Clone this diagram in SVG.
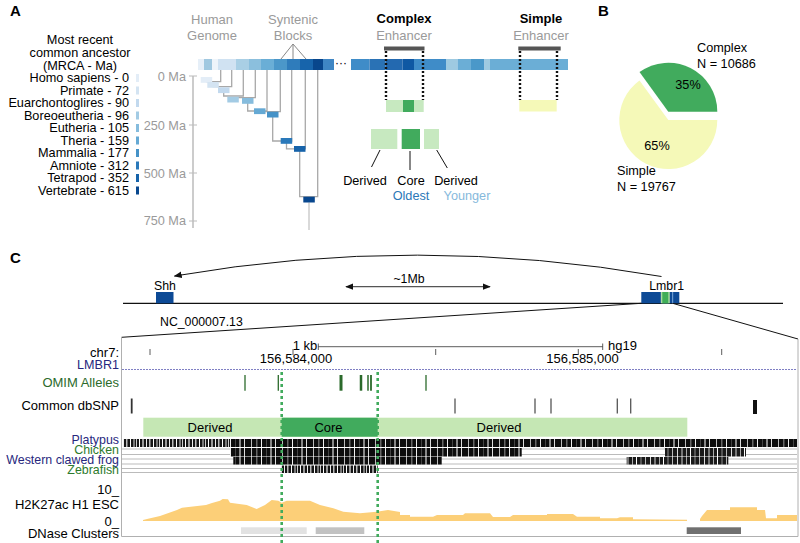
<svg xmlns="http://www.w3.org/2000/svg" width="800" height="543" viewBox="0 0 800 543">
<style>
text{font-family:"Liberation Sans",Arial,sans-serif;fill:#000}
.pl{font-weight:bold;font-size:15px}
.lg{font-size:12.7px;text-anchor:end}
.ax{font-size:12.7px;text-anchor:end;fill:#9a9a9a}
.gt{font-size:13px;text-anchor:middle;fill:#9a9a9a}
.bt{font-size:13px;text-anchor:middle;font-weight:bold}
.sm{font-size:12.7px}
.tr{font-size:13px;text-anchor:end}
.sp{font-size:12.4px;text-anchor:end}
.tree{fill:none;stroke:#a8a8a8;stroke-width:1.3}
.dot{stroke:#111;stroke-width:2.4;stroke-dasharray:2 2}
.gdot{stroke:#41ab5d;stroke-width:2.6;stroke-dasharray:3 3}
.rowl{stroke:#aaa;stroke-width:0.8}
.omim{stroke:#2b6a2b}
.snp{stroke:#555;stroke-width:1.3}
.tick{stroke:#333;stroke-width:0.8}
</style>
<defs>
<marker id="ah" viewBox="0 0 10 10" refX="9" refY="5" markerWidth="8" markerHeight="8" orient="auto-start-reverse" markerUnits="userSpaceOnUse"><path d="M0,1 L10,5 L0,9 Z" fill="#111"/></marker>
<pattern id="bcD" width="31" height="10" patternUnits="userSpaceOnUse">
<rect width="31" height="10" fill="#0d0d0d"/>
<rect x="3" width="1" height="10" fill="#bbb"/><rect x="8" width="1.5" height="10" fill="#666"/>
<rect x="13" width="1" height="10" fill="#eee"/><rect x="18" width="1" height="10" fill="#444"/>
<rect x="22" width="2" height="10" fill="#888"/><rect x="27" width="1" height="10" fill="#ddd"/>
</pattern>
<pattern id="bcL" width="23" height="10" patternUnits="userSpaceOnUse">
<rect width="23" height="10" fill="#151515"/>
<rect x="1" width="1" height="10" fill="#fff"/><rect x="4" width="2" height="10" fill="#999"/>
<rect x="8" width="1" height="10" fill="#eee"/><rect x="11" width="1.5" height="10" fill="#bbb"/>
<rect x="15" width="1" height="10" fill="#fff"/><rect x="18" width="2" height="10" fill="#777"/>
<rect x="21" width="1" height="10" fill="#ccc"/>
</pattern>
<pattern id="bcM" width="27" height="10" patternUnits="userSpaceOnUse">
<rect width="27" height="10" fill="#1a1a1a"/>
<rect x="2" width="1" height="10" fill="#ddd"/><rect x="6" width="2" height="10" fill="#777"/>
<rect x="11" width="1" height="10" fill="#aaa"/><rect x="15" width="1" height="10" fill="#fff"/>
<rect x="19" width="2" height="10" fill="#555"/><rect x="24" width="1" height="10" fill="#bbb"/>
</pattern>
</defs>

<!-- Panel labels -->
<text class="pl" x="10" y="16">A</text>
<text class="pl" x="598" y="16">B</text>
<text class="pl" x="10" y="263">C</text>

<!-- Panel A legend -->
<g id="legend">
<text class="sm" x="80" y="44" text-anchor="middle">Most recent</text>
<text class="sm" x="80" y="57" text-anchor="middle">common ancestor</text>
<text class="sm" x="80" y="70" text-anchor="middle">(MRCA - Ma)</text>
<text class="lg" x="129" y="82">Homo sapiens - 0</text>
<text class="lg" x="129" y="94.5">Primate - 72</text>
<text class="lg" x="129" y="107">Euarchontoglires - 90</text>
<text class="lg" x="129" y="119.5">Boreoeutheria - 96</text>
<text class="lg" x="129" y="132">Eutheria - 105</text>
<text class="lg" x="129" y="144.5">Theria - 159</text>
<text class="lg" x="129" y="157">Mammalia - 177</text>
<text class="lg" x="129" y="169.5">Amniote - 312</text>
<text class="lg" x="129" y="182">Tetrapod - 352</text>
<text class="lg" x="129" y="194.5">Vertebrate - 615</text>
<rect x="136" y="74" width="3" height="8" fill="#e3edf7"/>
<rect x="136" y="86.5" width="3" height="8" fill="#d4e4f2"/>
<rect x="136" y="99" width="3" height="8" fill="#c2d9ee"/>
<rect x="136" y="111.5" width="3" height="8" fill="#a3cbe4"/>
<rect x="136" y="124" width="3" height="8" fill="#86bcdd"/>
<rect x="136" y="136.5" width="3" height="8" fill="#65a9d4"/>
<rect x="136" y="149" width="3" height="8" fill="#4592c7"/>
<rect x="136" y="161.5" width="3" height="8" fill="#2a79ba"/>
<rect x="136" y="174" width="3" height="8" fill="#1663aa"/>
<rect x="136" y="186.5" width="3" height="8" fill="#08478e"/>
</g>

<!-- Axis -->
<g id="axis">
<line x1="193" y1="76" x2="193" y2="228" stroke="#bbb" stroke-width="1.5"/>
<path d="M189,76H197M189,125H197M189,173H197M189,221H197" stroke="#bbb" stroke-width="1.2"/>
<text class="ax" x="186" y="81">0 Ma</text>
<text class="ax" x="186" y="130">250 Ma</text>
<text class="ax" x="186" y="178">500 Ma</text>
<text class="ax" x="186" y="225">750 Ma</text>
</g>

<!-- Headers -->
<g id="headers">
<text class="gt" x="212" y="24">Human</text>
<text class="gt" x="212" y="40">Genome</text>
<text class="gt" x="293" y="24">Syntenic</text>
<text class="gt" x="293" y="40">Blocks</text>
<path d="M293,44 L281,59 M293,44 L293,59 M293,44 L306,59" stroke="#888" stroke-width="1"/>
<text class="bt" x="404" y="23">Complex</text>
<text class="gt" x="404" y="40">Enhancer</text>
<text class="bt" x="541" y="23">Simple</text>
<text class="gt" x="541" y="40">Enhancer</text>
</g>

<!-- Genome bars -->
<g id="genome-bar">
<rect x="198" y="59" width="6" height="11" fill="#e6eff8"/>
<rect x="204" y="59" width="8" height="11" fill="#a0c8e0"/>
<rect x="212" y="59" width="6" height="11" fill="#eef4fa"/>
<rect x="218" y="59" width="18" height="11" fill="#d0e2f2"/>
<rect x="236" y="59" width="13" height="11" fill="#a9cfe5"/>
<rect x="249" y="59" width="12" height="11" fill="#8bbfdd"/>
<rect x="261" y="59" width="13" height="11" fill="#6aaed6"/>
<rect x="274" y="59" width="13" height="11" fill="#4b97c9"/>
<rect x="287" y="59" width="13" height="11" fill="#2f7cbb"/>
<rect x="300" y="59" width="13" height="11" fill="#1764ab"/>
<rect x="313" y="59" width="10" height="11" fill="#08468c"/>
<rect x="323" y="59" width="11" height="11" fill="#3f86c4"/>
<text x="341" y="67" font-size="12" text-anchor="middle">···</text>
<rect x="351" y="59" width="18.5" height="11" fill="#3f8cc8"/>
<rect x="369.5" y="59" width="16" height="11" fill="#2a72b5"/>
<rect x="385.5" y="59" width="17" height="11" fill="#2369b0"/>
<rect x="402.5" y="59" width="11.5" height="11" fill="#0f58a3"/>
<rect x="414" y="59" width="32" height="11" fill="#3f8cc8"/>
<rect x="446" y="59" width="11.5" height="11" fill="#9ecae1"/>
<rect x="457.5" y="59" width="13.5" height="11" fill="#6baed6"/>
<rect x="471" y="59" width="13.5" height="11" fill="#4a98c9"/>
<rect x="484.5" y="59" width="5.5" height="11" fill="#9ecae1"/>
<rect x="490" y="59" width="78" height="11" fill="#6baed6"/>
</g>

<!-- Tree connectors -->
<g id="tree-connectors">
<path class="tree" d="M206.5,80 V81.7 H220.7 V70"/>
<path class="tree" d="M213,85 V86.7 H231.7 V70"/>
<path class="tree" d="M223.7,90 V96 H243.3 V70"/>
<path class="tree" d="M233,99.6 V97.7 H255.3 V70"/>
<path class="tree" d="M247.7,101 V111 H267 V70"/>
<path class="tree" d="M259.7,111 V111.7 H280.3 V70"/>
<path class="tree" d="M272.7,114.6 V141 H291.7 V70"/>
<path class="tree" d="M286.5,141 V148.9 H305.3 V70"/>
<path class="tree" d="M299.7,149 V196.7 H317.7 V70"/>
<path d="M309,202.5 V230" stroke="#ccc" stroke-width="1.5"/>
</g>

<!-- Tree nodes -->
<g id="tree-nodes">
<rect x="200.7" y="77" width="11.5" height="5.8" fill="#e3edf7"/>
<rect x="207.3" y="82" width="11.5" height="5.8" fill="#d4e4f2"/>
<rect x="218" y="87.3" width="11.5" height="5.8" fill="#c2d9ee"/>
<rect x="227.3" y="96.7" width="11.5" height="5.8" fill="#a3cbe4"/>
<rect x="242" y="98" width="11.5" height="5.8" fill="#86bcdd"/>
<rect x="254" y="108.3" width="11.5" height="5.8" fill="#65a9d4"/>
<rect x="267" y="111.7" width="11.5" height="5.8" fill="#4592c7"/>
<rect x="280.7" y="138" width="11.5" height="5.8" fill="#2a79ba"/>
<rect x="294" y="146" width="11.5" height="5.8" fill="#1663aa"/>
<rect x="303.3" y="196.7" width="11.5" height="5.8" fill="#08478e"/>
</g>

<!-- Complex enhancer -->
<g id="complex-enhancer">
<rect x="384" y="46.5" width="40.5" height="4" fill="#555"/>
<line class="dot" x1="386" y1="51" x2="386" y2="100"/>
<line class="dot" x1="423" y1="51" x2="423" y2="100"/>
<rect x="386" y="100" width="17" height="12" fill="#c7e9c0"/>
<rect x="403" y="100" width="11" height="12" fill="#41ab5d"/>
<rect x="414" y="100" width="9.7" height="12" fill="#c7e9c0"/>
<rect x="371" y="129" width="26.3" height="20" fill="#c7e9c0"/>
<rect x="401.7" y="129" width="18.3" height="20" fill="#41ab5d"/>
<rect x="424" y="129" width="15" height="20" fill="#c7e9c0"/>
<path d="M380,150 L371.5,167 M410,151 V170 M436.7,150 L447.3,168" stroke="#111" stroke-width="1"/>
<text class="sm" x="365" y="185" text-anchor="middle">Derived</text>
<text class="sm" x="411" y="185" text-anchor="middle">Core</text>
<text class="sm" x="456" y="185" text-anchor="middle">Derived</text>
<text class="sm" x="411" y="200" text-anchor="middle" style="fill:#2b78b8">Oldest</text>
<text class="sm" x="467" y="200" text-anchor="middle" style="fill:#86b9dc">Younger</text>
</g>

<!-- Simple enhancer -->
<g id="simple-enhancer">
<rect x="518.3" y="46.5" width="42.4" height="4" fill="#555"/>
<line class="dot" x1="520" y1="51" x2="520" y2="100"/>
<line class="dot" x1="557" y1="51" x2="557" y2="100"/>
<rect x="519.3" y="100" width="37.4" height="11.5" fill="#f5f9b8"/>
</g>

<!-- Panel B pie -->
<g id="pie-simple">
<path d="M668.3,120 L717.3,120 A49,49 0 1 1 639.5,80.4 Z" fill="#f5f9b8"/>
<text class="sm" x="657" y="150" text-anchor="middle">65%</text>
<text class="sm" x="617" y="175">Simple</text>
<text class="sm" x="617" y="191">N = 19767</text>
</g>
<g id="pie-complex">
<path d="M668.3,111.7 L639.5,72.1 A49,49 0 0 1 717.3,111.7 Z" fill="#41ab5d"/>
<text class="sm" x="688" y="89" text-anchor="middle">35%</text>
<text class="sm" x="697" y="52">Complex</text>
<text class="sm" x="697" y="68">N = 10686</text>
</g>

<!-- Panel C chromosome -->
<g id="chromosome">
<line x1="123" y1="303.3" x2="783" y2="303.3" stroke="#111" stroke-width="1.2"/>
<text class="sm" x="160" y="326" style="font-size:12.3px">NC_000007.13</text>
</g>
<g id="shh">
<rect x="156" y="292" width="17.5" height="11.3" fill="#0d4a96"/>
<text class="sm" x="165" y="289.5" text-anchor="middle" style="font-size:12.3px">Shh</text>
</g>
<g id="lmbr1">
<rect x="641.3" y="292" width="38" height="11.3" fill="#0d4a96"/>
<rect x="660.8" y="292" width="9" height="11.3" fill="#a8dca0"/>
<rect x="662.3" y="292" width="6" height="11.3" fill="#3fae58"/>
<rect x="672" y="292" width="1.2" height="11.3" fill="#6a9ad0"/>
<text class="sm" x="666.7" y="289.5" text-anchor="middle" style="font-size:12.3px">Lmbr1</text>
</g>
<g id="connectors">
<path d="M661.5,276.5 Q417,234 174.5,276" fill="none" stroke="#111" stroke-width="1" marker-end="url(#ah)"/>
<line x1="346" y1="286.7" x2="490" y2="286.7" stroke="#555" stroke-width="1.2" marker-start="url(#ah)" marker-end="url(#ah)"/>
<line x1="121.5" y1="337.3" x2="641.3" y2="303.3" stroke="#111" stroke-width="1"/>
<line x1="672.7" y1="303.3" x2="798" y2="339" stroke="#111" stroke-width="1"/>
</g>
<text class="sm" x="409" y="283" text-anchor="middle" style="font-size:12.3px">~1Mb</text>

<!-- Browser -->
<g id="browser">
<path d="M121.5,337.3 V536.5 H798 V339" fill="none" stroke="#b0b0b0" stroke-width="1"/>
<text class="tr" x="119" y="357">chr7:</text>
<text class="tr" x="119" y="368.5" style="fill:#27277d;font-size:12.6px">LMBR1</text>
<line x1="122" y1="369.5" x2="797" y2="369.5" stroke="#7f7fc4" stroke-width="1" stroke-dasharray="2 1"/>
<line x1="318.3" y1="346.7" x2="602.7" y2="346.7" class="tick"/>
<path d="M318.3,343.5V350M602.7,343.5V350" class="tick"/>
<text class="sm" x="305" y="349.5" text-anchor="middle" style="font-size:13px">1 kb</text>
<text class="sm" x="608" y="349.5" style="font-size:13px">hg19</text>
<path d="M150,349V355M293,349V355M435.7,349V355M578.3,349V355M721.7,349V355" class="tick"/>
<text x="296" y="362.5" text-anchor="middle" font-size="13">156,584,000</text>
<text x="582.5" y="362.5" text-anchor="middle" font-size="13">156,585,000</text>

<text class="tr" x="119" y="387" style="fill:#2b6a2b">OMIM Alleles</text>
<g id="omim">
<line class="omim" x1="245" y1="375" x2="245" y2="390.7" stroke-width="1.3"/>
<line class="omim" x1="278.3" y1="375" x2="278.3" y2="390.7" stroke-width="1.3"/>
<line class="omim" x1="341" y1="375" x2="341" y2="390.7" stroke-width="3"/>
<line class="omim" x1="361" y1="375" x2="361" y2="390.7" stroke-width="2.5"/>
<line class="omim" x1="368" y1="375" x2="368" y2="390.7" stroke-width="1.5"/>
<line class="omim" x1="371" y1="375" x2="371" y2="390.7" stroke-width="1.8"/>
<line class="omim" x1="426" y1="375" x2="426" y2="390.7" stroke-width="1.3"/>
</g>

<text class="tr" x="119" y="409.5">Common dbSNP</text>
<g id="dbsnp">
<line x1="131.7" y1="398.5" x2="131.7" y2="413.5" stroke="#333" stroke-width="1.8"/>
<line class="snp" x1="455" y1="398.5" x2="455" y2="413.5"/>
<line class="snp" x1="535" y1="398.5" x2="535" y2="413.5"/>
<line class="snp" x1="551" y1="398.5" x2="551" y2="413.5"/>
<line class="snp" x1="617.3" y1="398.5" x2="617.3" y2="413.5"/>
<line class="snp" x1="630.7" y1="398.5" x2="630.7" y2="413.5"/>
<rect x="753" y="400" width="4" height="14" fill="#111"/>
</g>

<g id="segments">
<rect x="143.3" y="417.7" width="544" height="19" fill="#c5e7b4"/>
<rect x="281.7" y="417.7" width="96" height="19" fill="#41ab5d"/>
<text x="210" y="432" text-anchor="middle" font-size="13">Derived</text>
<text x="328.5" y="432" text-anchor="middle" font-size="13">Core</text>
<text x="499" y="432" text-anchor="middle" font-size="13">Derived</text>
</g>

<text class="sp" x="119" y="444" style="fill:#27277d">Platypus</text>
<text class="sp" x="119" y="454" style="fill:#2d7a2d">Chicken</text>
<text class="sp" x="119" y="463.5" style="fill:#27277d">Western clawed frog</text>
<text class="sp" x="119" y="474" style="fill:#2d7a2d">Zebrafish</text>
<g id="conservation">
<path d="M122,449H797M122,454.5H797M122,459H797M122,464H797M122,468.5H797M122,472.5H797" class="rowl"/>
<rect x="123" y="439" width="107" height="8" fill="url(#bcL)"/>
<rect x="230" y="439" width="567" height="8" fill="url(#bcD)"/>
<rect x="230" y="448" width="291.7" height="8.5" fill="url(#bcD)"/>
<rect x="665" y="448" width="81" height="8.5" fill="url(#bcM)"/>
<rect x="233.3" y="457" width="208.4" height="7.5" fill="url(#bcD)"/>
<rect x="626.7" y="457" width="101.6" height="7.5" fill="url(#bcM)"/>
<rect x="281.7" y="465.5" width="96" height="7.5" fill="url(#bcL)"/>
</g>

<text class="tr" x="119" y="494">10_</text>
<text class="tr" x="119" y="508.5">H2K27ac H1 ESC</text>
<text class="tr" x="119" y="526">0_</text>
<path id="h3k27ac" fill="#fccf78" d="M143,521 L143,520 L147,519 L160,516 L177,510 L182,507.7 L206,505 L212,503 L220,500.7 L222.7,499 L228,499.3 L230,502.7 L246.7,505 L256.7,509 L265,505 L271.7,500 L278.3,500.7 L281.7,502.7 L286.7,500.7 L310,500.7 L320,505 L333.3,508.3 L343.3,511.7 L360,513.3 L376.7,511.7 L388,510 L400,512 L400,515 L410,515 L410,516.7 L433,516.7 L437,515 L463,515 L465,513.3 L490,513.3 L493,517 L510,517 L513,515 L547,515 L547,514 L573,514 L577,516.7 L600,516.7 L600,518.3 L617,518.3 L620,517.3 L633,517.3 L633,519.3 L687,519.8 L687,521 Z M700,521 L700,519 L702,516 L707,510 L730,510 L730,507.3 L757,507.3 L757,510 L765,510 L766,518.3 L777,518.3 L777,515 L797,515 L797,521 Z"/>

<text class="tr" x="119" y="538">DNase Clusters</text>
<g id="dnase">
<rect x="241" y="527.3" width="65.7" height="6.7" fill="#e2e2e2"/>
<rect x="315.7" y="527.3" width="48.6" height="6.7" fill="#c2c2c2"/>
<rect x="686.7" y="527.3" width="54.3" height="6.7" fill="#707070"/>
</g>

<line class="gdot" x1="281.7" y1="372" x2="281.7" y2="543"/>
<line class="gdot" x1="377.7" y1="372" x2="377.7" y2="543"/>
</g>
</svg>
